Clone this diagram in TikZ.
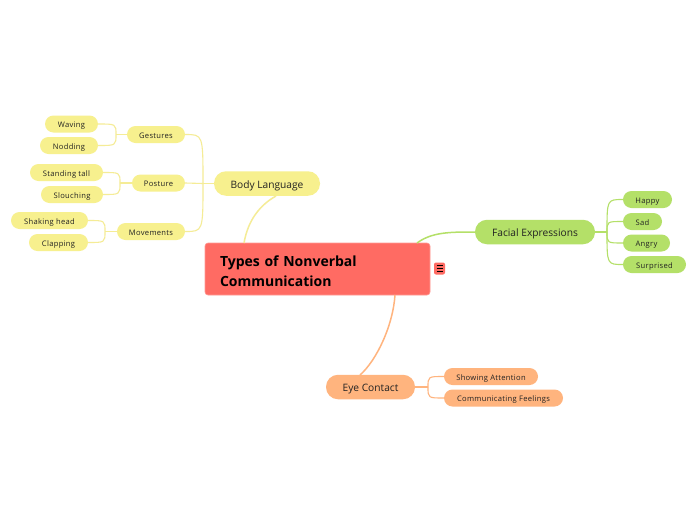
\documentclass[tikz,border=0pt]{standalone}
\usepackage{fontspec}
\setmainfont{Open Sans}
\newfontfamily\leaffont[LetterSpace=4]{Open Sans}
\definecolor{rootred}{HTML}{FF6B63}
\definecolor{rootedge}{HTML}{FF9A94}
\definecolor{yel}{HTML}{F7F08E}
\definecolor{yelline}{HTML}{F5EC96}
\definecolor{grn}{HTML}{B4E068}
\definecolor{org}{HTML}{FFB47E}
\definecolor{txt}{HTML}{222222}
\tikzset{
  rootbox/.style={fill=rootred, draw=rootedge, line width=0.6pt, rounded corners=3pt,
    minimum height=52pt, text width=195pt, inner xsep=15pt, inner ysep=0pt, align=left,
    font=\fontsize{14}{20}\selectfont\bfseries, text=black},
  mainbox/.style={rounded corners=12pt, minimum height=24.5pt, inner sep=0pt,
    text height=10pt, text depth=1pt,
    font=\fontsize{10.2}{12}\selectfont, text=txt},
  leafbox/.style={rounded corners=8.5pt, minimum height=17pt, inner sep=0pt,
    text height=7.5pt, text depth=0.5pt,
    font=\leaffont\fontsize{7.6}{9}\selectfont, text=txt},
  yline/.style={draw=yelline, line width=1.1pt},
  gline/.style={draw=grn, line width=1.1pt},
  oline/.style={draw=org, line width=1.1pt},
}
\begin{document}
\begin{tikzpicture}[x=1pt,y=-1pt]
\useasboundingbox (0,0) rectangle (697,520);
\fill[white] (0,0) rectangle (697,520);

% root
\node[rootbox] (root) at (317.5,269) {\rule{0pt}{15pt}Types of Nonverbal\\Communication};
\node[fill=rootred, rounded corners=2pt, minimum width=11pt, minimum height=12pt, inner sep=0pt] (menu) at (439.5,268.5) {};
\draw[black, line width=0.8pt] ([xshift=-3pt,yshift=-3pt]menu.center) -- ([xshift=3pt,yshift=-3pt]menu.center)
  ([xshift=-3pt]menu.center) -- ([xshift=3pt]menu.center)
  ([xshift=-3pt,yshift=3pt]menu.center) -- ([xshift=3pt,yshift=3pt]menu.center);

% main branches
\node[mainbox, fill=yel, minimum width=106pt] (bl) at (267,183.5) {Body Language};
\node[mainbox, fill=grn, minimum width=120pt] (fe) at (535,232) {Facial Expressions};
\node[mainbox, fill=org, minimum width=89pt] (ec) at (370.5,387) {Eye Contact};

% body language children
\node[leafbox, fill=yel, minimum width=58pt] (ge) at (156,134.5) {Gestures};
\node[leafbox, fill=yel, minimum width=53pt] (po) at (158.5,183) {Posture};
\node[leafbox, fill=yel, minimum width=68pt] (mo) at (151,231.5) {Movements};
\node[leafbox, fill=yel, minimum width=53pt] (wa) at (71.5,124) {Waving};
\node[leafbox, fill=yel, minimum width=58pt] (no) at (69,145.5) {Nodding};
\node[leafbox, fill=yel, minimum width=73pt] (st) at (66.5,172.5) {Standing tall};
\node[leafbox, fill=yel, minimum width=62pt] (sl) at (72,194.5) {Slouching};
\node[leafbox, fill=yel, minimum width=77pt] (sh) at (49.5,220.5) {Shaking head};
\node[leafbox, fill=yel, minimum width=59pt] (cl) at (58.5,242.5) {Clapping};

% facial children
\node[leafbox, fill=grn, minimum width=49pt] (ha) at (647.5,199.5) {Happy};
\node[leafbox, fill=grn, minimum width=39pt] (sa) at (642.5,221.5) {Sad};
\node[leafbox, fill=grn, minimum width=47pt] (an) at (646.5,243) {Angry};
\node[leafbox, fill=grn, minimum width=63pt] (su) at (654.5,264.5) {Surprised};

% eye contact children
\node[leafbox, fill=org, minimum width=94pt] (sa2) at (491,376.5) {Showing Attention};
\node[leafbox, fill=org, minimum width=119pt] (cf) at (503.5,398) {Communicating Feelings};

% junction coordinates
\coordinate (jbl) at (203,183.5);
\coordinate (jge) at (116,134.5);
\coordinate (jpo) at (120,183);
\coordinate (jmo) at (105,231.5);
\coordinate (jfe) at (607,232);
\coordinate (jec) at (428,387);
\coordinate (rbl) at (244,243);
\coordinate (rfe) at (417,243);
\coordinate (rec) at (395,295);
\coordinate (blb) at (276,196);
\coordinate (ect) at (360,375);

% root connectors
\draw[yline, line width=1.5pt] (rbl) .. controls (248,220) and (260,205) .. (blb);
\draw[gline, line width=1.5pt] (rfe) .. controls (432,232) and (450,232) .. (fe.west);
\draw[oline, line width=1.5pt] (rec) .. controls (393,325) and (377,360) .. (ect);

% body language connectors
\draw[yline] (bl.west) -- (jbl);
\draw[yline] (jbl) .. controls (jbl |- ge.east) .. (ge.east);
\draw[yline] (jbl) -- (po.east);
\draw[yline] (jbl) .. controls (jbl |- mo.east) .. (mo.east);
\draw[yline] (ge.west) -- (jge);
\draw[yline] (jge) .. controls (jge |- wa.east) .. (wa.east);
\draw[yline] (jge) .. controls (jge |- no.east) .. (no.east);
\draw[yline] (po.west) -- (jpo);
\draw[yline] (jpo) .. controls (jpo |- st.east) .. (st.east);
\draw[yline] (jpo) .. controls (jpo |- sl.east) .. (sl.east);
\draw[yline] (mo.west) -- (jmo);
\draw[yline] (jmo) .. controls (jmo |- sh.east) .. (sh.east);
\draw[yline] (jmo) .. controls (jmo |- cl.east) .. (cl.east);

% facial connectors
\draw[gline] (fe.east) -- (jfe);
\draw[gline] (jfe) .. controls (jfe |- ha.west) .. (ha.west);
\draw[gline] (jfe) .. controls (jfe |- sa.west) .. (sa.west);
\draw[gline] (jfe) .. controls (jfe |- an.west) .. (an.west);
\draw[gline] (jfe) .. controls (jfe |- su.west) .. (su.west);

% eye contact connectors
\draw[oline] (ec.east) -- (jec);
\draw[oline] (jec) .. controls (jec |- sa2.west) .. (sa2.west);
\draw[oline] (jec) .. controls (jec |- cf.west) .. (cf.west);
\end{tikzpicture}
\end{document}
